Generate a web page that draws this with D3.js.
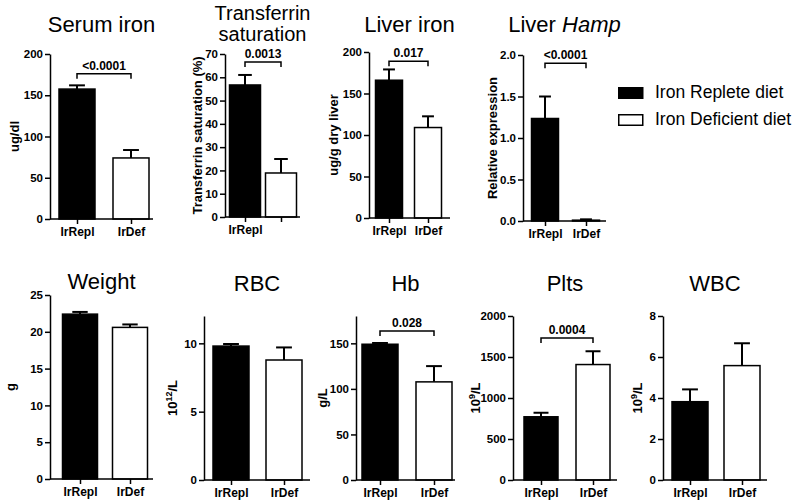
<!DOCTYPE html>
<meta charset="utf-8">
<head>
<style>
  body { margin: 0; background: #fff; }
  svg { font-family: Arial, "Liberation Sans", sans-serif; }
  .axis path, .axis line { stroke: #000; stroke-width: 1.5; fill: none; }
  .axis text { font-size: 11.5px; font-weight: bold; fill: #000; }
  .xaxis text { font-size: 12px; }
  .title { font-size: 22px; fill: #000; }
  .title.two { font-size: 20px; }
  .ylab { font-size: 13px; font-weight: bold; fill: #000; }
  .pval { font-size: 12px; font-weight: bold; fill: #000; }
  .legend { font-size: 17.5px; fill: #000; }
</style>
</head>
<body>
<script src="https://cdnjs.cloudflare.com/ajax/libs/d3/7.8.5/d3.min.js"></script>
<script>

// ---- data ----
const groups = ["IrRepl", "IrDef"];
const seriesNames = ["Iron Replete diet", "Iron Deficient diet"];
const titles = ["Serum iron", "Transferrin|saturation", "Liver iron", "Liver *Hamp",
                "Weight", "RBC", "Hb", "Plts", "WBC"];
const yLabels = ["ug/dl", "Transferrin saturation (%)", "ug/g dry liver", "Relative expression",
                 "g", "10^12/L", "g/L", "10^9/L", "10^9/L"];
const xTickLabels = [groups, ["IrRepl", ""], groups, groups, groups, groups, groups, groups, groups];

const repleteMean = [157.5, 56.7, 166, 1.235, 22.4, 9.8, 149, 771, 3.82];
const repleteSEM  = [4.5, 4.3, 13, 0.265, 0.3, 0.15, 1.4, 49, 0.6];
const deficientMean = [74, 18.9, 109, 0.01, 20.6, 8.78, 107.7, 1408, 5.58];
const deficientSEM  = [9.6, 6.0, 13.5, 0.01, 0.4, 0.92, 17.3, 162, 1.09];

const yMax = [200, 70, 200, 2, 25, 12, 180, 2000, 8];
const yTicks = [
  [0, 50, 100, 150, 200],
  [0, 10, 20, 30, 40, 50, 60, 70],
  [0, 50, 100, 150, 200],
  [0, 0.5, 1.0, 1.5, 2.0],
  [0, 5, 10, 15, 20, 25],
  [0, 5, 10],
  [0, 50, 100, 150],
  [0, 500, 1000, 1500, 2000],
  [0, 2, 4, 6, 8]
];
const pValues = ["<0.0001", "0.0013", "0.017", "<0.0001", null, null, "0.028", "0.0004", null];
const pLevel  = [176, 66.6, 189, 1.9, null, null, 163.5, 1732, null];

// ---- layout of the panels ----
const frames = [
  {x0: 50,  x1: 153, c: [77, 131],  bw: 36, yTop: 54,  yBot: 219, yl: 14,  tY: 32},
  {x0: 225, x1: 300, c: [245, 281], bw: 31, yTop: 54,  yBot: 217, yl: 197, tY: 20},
  {x0: 369, x1: 450, c: [389, 428], bw: 27, yTop: 52,  yBot: 218, yl: 333, tY: 32},
  {x0: 523, x1: 606, c: [545, 586], bw: 27, yTop: 55,  yBot: 221, yl: 492, tY: 32},
  {x0: 50,  x1: 153, c: [80, 130],  bw: 35, yTop: 295, yBot: 479, yl: 10,  tY: 289},
  {x0: 204, x1: 310, c: [231, 284], bw: 36, yTop: 316, yBot: 480, yl: 172, tY: 291},
  {x0: 356, x1: 455, c: [380, 434], bw: 36, yTop: 316, yBot: 480, yl: 322, tY: 291},
  {x0: 513, x1: 617, c: [541, 593], bw: 34, yTop: 316, yBot: 480, yl: 475, tY: 291},
  {x0: 663, x1: 767, c: [690, 742], bw: 36, yTop: 316, yBot: 480, yl: 637, tY: 291}
];

const svg = d3.select("body").append("svg")
  .attr("width", 798)
  .attr("height", 503);

svg.append("rect").attr("width", 798).attr("height", 503).attr("fill", "#fff");

function addLabelText(sel, str) {
  // handles "10^12/L" style superscripts
  const m = str.match(/^(.*?)\^(\d+)(.*)$/);
  if (!m) { sel.text(str); return; }
  sel.append("tspan").text(m[1]);
  sel.append("tspan").attr("font-size", "9px").attr("dy", "-5").text(m[2]);
  sel.append("tspan").attr("dy", "5").text(m[3]);
}

frames.forEach((f, i) => {
  const g = svg.append("g");

  const y = d3.scaleLinear().domain([0, yMax[i]]).range([f.yBot, f.yTop]);
  const x = d3.scalePoint().domain(groups).range(f.c);

  const rows = [
    {grp: groups[0], mean: repleteMean[i], sem: repleteSEM[i], fill: "#000"},
    {grp: groups[1], mean: deficientMean[i], sem: deficientSEM[i], fill: "#fff"}
  ];

  // error bars first so bar outline sits on top
  rows.forEach(r => {
    const cx = x(r.grp);
    g.append("line")
      .attr("x1", cx).attr("x2", cx)
      .attr("y1", y(r.mean)).attr("y2", y(r.mean + r.sem))
      .attr("stroke", "#000").attr("stroke-width", 2);
    g.append("line")
      .attr("x1", cx - f.bw * 0.22).attr("x2", cx + f.bw * 0.22)
      .attr("y1", y(r.mean + r.sem)).attr("y2", y(r.mean + r.sem))
      .attr("stroke", "#000").attr("stroke-width", 2);
  });

  g.selectAll("rect.bar")
    .data(rows)
    .join("rect")
      .attr("class", "bar")
      .attr("x", d => x(d.grp) - f.bw / 2)
      .attr("width", f.bw)
      .attr("y", d => y(d.mean))
      .attr("height", d => f.yBot - y(d.mean))
      .attr("fill", d => d.fill)
      .attr("stroke", "#000")
      .attr("stroke-width", 1.5);

  // y axis
  const fmt = yMax[i] <= 2 ? d3.format(".1f") : d3.format("d");
  g.append("g")
    .attr("class", "axis")
    .attr("transform", `translate(${f.x0},0)`)
    .call(d3.axisLeft(y).tickValues(yTicks[i]).tickFormat(fmt)
      .tickSize(5).tickSizeOuter(0).tickPadding(2));

  // x axis
  const xa = g.append("g")
    .attr("class", "axis xaxis")
    .attr("transform", `translate(0,${f.yBot})`)
    .call(d3.axisBottom(x).tickSize(5).tickSizeOuter(0).tickPadding(3)
      .tickFormat((d, k) => xTickLabels[i][k]));
  xa.select(".domain").attr("d", `M${f.x0},0H${f.x1}`);

  // title
  const mid = (f.x0 + f.x1) / 2;
  const t = svg.append("text")
    .attr("class", "title")
    .attr("x", mid)
    .attr("y", f.tY)
    .attr("text-anchor", "middle");
  if (titles[i].includes("|")) {
    const parts = titles[i].split("|");
    t.classed("two", true);
    t.append("tspan").attr("x", mid).text(parts[0]);
    t.append("tspan").attr("x", mid).attr("dy", 21).text(parts[1]);
  } else if (titles[i].includes("*")) {
    const parts = titles[i].split("*");
    t.append("tspan").text(parts[0]);
    t.append("tspan").attr("font-style", "italic").text(parts[1]);
  } else {
    t.text(titles[i]);
  }

  // y label
  const yl = svg.append("text")
    .attr("class", "ylab")
    .attr("text-anchor", "middle")
    .attr("transform", `translate(${f.yl},${(f.yTop + f.yBot) / 2}) rotate(-90)`)
    .attr("dy", "0.35em");
  addLabelText(yl, yLabels[i]);

  // significance bracket
  if (pValues[i]) {
    const by = y(pLevel[i]);
    const xa0 = x(groups[0]), xa1 = x(groups[1]);
    g.append("path")
      .attr("d", `M${xa0},${by + 5}V${by}H${xa1}V${by + 5}`)
      .attr("fill", "none").attr("stroke", "#000").attr("stroke-width", 1.5);
    g.append("text")
      .attr("class", "pval")
      .attr("x", (xa0 + xa1) / 2)
      .attr("y", by - 4)
      .attr("text-anchor", "middle")
      .text(pValues[i]);
  }
});

// legend
const leg = svg.append("g").attr("transform", "translate(618,87)");
seriesNames.forEach((name, k) => {
  leg.append("rect")
    .attr("x", 0.75).attr("y", k * 27 + 0.75)
    .attr("width", 24).attr("height", 10.5)
    .attr("fill", k === 0 ? "#000" : "#fff")
    .attr("stroke", "#000").attr("stroke-width", 1.5);
  leg.append("text")
    .attr("class", "legend")
    .attr("x", 37)
    .attr("y", k * 27 + 11)
    .text(name);
});

</script>
</body>
